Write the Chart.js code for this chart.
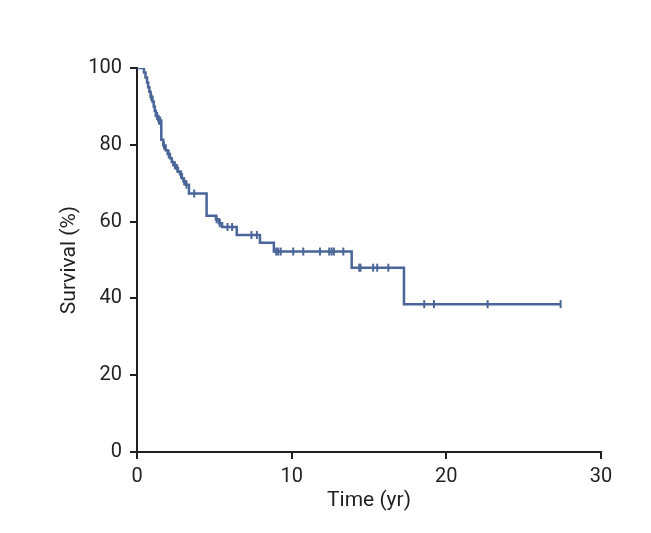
<!DOCTYPE html>
<html>
<head>
<meta charset="utf-8">
<script src="https://cdn.jsdelivr.net/npm/chart.js@4.4.1/dist/chart.umd.min.js"></script>
<style>
  html, body { margin: 0; padding: 0; background: #fff; }
</style>
</head>
<body>
<canvas id="km_chart" width="651" height="533"></canvas>
<script>
// Kaplan-Meier curve: time (yr) of each drop, survival (%) after it
let eventTimes = [0, 0.45, 0.55, 0.65, 0.72, 0.8, 0.88, 1.0, 1.08, 1.15, 1.22, 1.38, 1.57,
                  1.7, 1.85, 1.98, 2.13, 2.25, 2.35, 2.5, 2.65, 2.78, 2.9, 3.0, 3.15, 3.36,
                  4.5, 5.1, 5.3, 5.5, 6.45, 7.95, 8.85, 13.88, 17.26, 27.39] ;
let survival =   [100, 98.8, 97.5, 96.2, 95, 93.8, 92.5, 91.3, 90, 88.8, 87.5, 86.3, 81.3,
                  79.8, 78.6, 77.6, 76.5, 75.5, 74.7, 73.9, 73.0, 72.3, 71.3, 70.5, 69.6, 67.3,
                  61.5, 60.6, 59.6, 58.6, 56.5, 54.5, 52.2, 48.0, 38.5, 38.5] ;
// censored observations (tick marks on the curve)
let censorTimes = [0.92, 1.3, 1.42, 1.5, 1.75, 2.05, 2.45, 2.6, 2.85, 3.05, 3.2, 3.7,
                   5.15, 5.35, 5.85, 6.15, 7.4, 7.75, 9.0, 9.13, 9.29, 10.1, 10.75, 11.83,
                   12.43, 12.58, 12.73, 13.34, 14.37, 14.45, 15.27, 15.53, 16.25,
                   18.57, 19.2, 22.67, 27.39] ;
let xTicks = [0, 10, 20, 30] ;
let yTicks = [0, 20, 40, 60, 80, 100] ;

const lineColor = '#4a6598' ;
const axisColor = '#231f20' ;
const fontFam = "'Liberation Sans Narrow', 'Roboto', sans-serif" ;

function survivalAt (t) {
    let s = survival[0] ;
    for (let i = 0; i < eventTimes.length; i++) {
        if (eventTimes[i] <= t) s = survival[i] ;
    }
    return s ;
}

let curveData = eventTimes.map((x, i) => ({ x: x, y: survival[i] })) ;
let censorData = censorTimes.map(x => ({ x: x, y: survivalAt(x) })) ;

let ctx = document.getElementById('km_chart').getContext('2d') ;
let km_chart = new Chart(ctx, {
    type: 'scatter',
    data: {
        datasets: [
            {
                data: curveData,
                showLine: true,
                stepped: true,
                borderColor: lineColor,
                borderWidth: 2.5,
                pointRadius: 0,
            },
            {
                data: censorData,
                pointStyle: 'line',
                rotation: 90,
                pointRadius: 4,
                borderColor: lineColor,
                borderWidth: 2,
            },
        ],
    },
    options: {
        responsive: false,
        animation: false,
        layout: { padding: { left: 0, right: 50, top: 68, bottom: 0 } },
        plugins: { legend: { display: false }, tooltip: { enabled: false } },
        scales: {
            x: {
                type: 'linear',
                min: 0, max: 30,
                afterBuildTicks: s => { s.ticks = xTicks.map(v => ({ value: v })) ; },
                afterFit: s => { s.height = 81 ; },
                grid: { drawOnChartArea: false, drawTicks: true, tickLength: 7, color: axisColor, lineWidth: 2 },
                border: { display: true, color: axisColor, width: 2 },
                ticks: { color: axisColor, padding: 6, font: { family: fontFam, size: 20 } },
                title: {
                    display: true, text: 'Time (yr)', color: axisColor,
                    font: { family: fontFam, size: 21 },
                    padding: { top: 0, bottom: 20 },
                },
            },
            y: {
                type: 'linear',
                min: 0, max: 100,
                afterBuildTicks: s => { s.ticks = yTicks.map(v => ({ value: v })) ; },
                afterFit: s => { s.width = 137 ; },
                grid: { drawOnChartArea: false, drawTicks: true, tickLength: 7, color: axisColor, lineWidth: 2 },
                border: { display: true, color: axisColor, width: 2 },
                ticks: { color: axisColor, padding: 8, font: { family: fontFam, size: 20 } },
                title: {
                    display: true, text: 'Survival (%)', color: axisColor,
                    font: { family: fontFam, size: 21 },
                    padding: { top: 57, bottom: 0 },
                },
            },
        },
    },
}) ;
</script>
</body>
</html>
